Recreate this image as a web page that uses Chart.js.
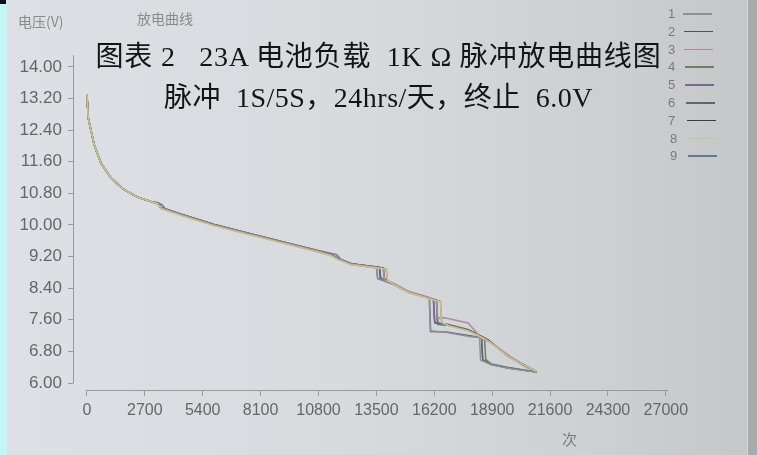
<!DOCTYPE html>
<html>
<head>
<meta charset="utf-8">
<script src="https://cdn.jsdelivr.net/npm/chart.js@4"></script>
<style>
html,body{margin:0;padding:0;width:757px;height:455px;overflow:hidden;}
body{position:relative;background:linear-gradient(90deg,#dde0e4 0%,#d8dbde 45%,#cdd0d2 80%,#c4c6c8 100%);font-family:"Liberation Sans",Arial,sans-serif;}
#c{position:absolute;left:0;top:0;}
.txt{position:absolute;white-space:pre;}
#strip{position:absolute;left:0;top:0;width:7px;height:455px;background:#c3f7f7;}
#mark{position:absolute;left:0;top:0;width:6px;height:4px;background:#111;}
#rstrip{position:absolute;left:747px;top:0;width:10px;height:455px;background:#a8aaac;border-left:1px solid #d4d6d7;}
.t{font-family:"Liberation Serif","Noto Sans CJK SC",serif;color:#141414;font-size:28px;line-height:28px;}
.lg{position:absolute;font-size:13px;line-height:13px;color:#7a7a7a;}
.lgl{position:absolute;height:1.5px;width:29px;}
</style>
</head>
<body>
<div id="strip"></div><div id="mark"></div><div id="rstrip"></div>
<canvas id="c" width="757" height="455"></canvas>
<div class="txt" style="left:18px;top:11px;font-size:14px;color:#8a8a8a;font-family:'Noto Sans CJK SC',sans-serif;">电压(V)</div>
<div class="txt" style="left:137px;top:8px;font-size:14px;color:#8a8a8a;font-family:'Noto Sans CJK SC',sans-serif;">放电曲线</div>
<div class="txt" style="left:562px;top:428px;font-size:15px;color:#7a7a7a;font-family:'Noto Sans CJK SC',sans-serif;">次</div>
<div class="txt t" style="left:0;width:757px;text-align:center;top:43px;letter-spacing:0.8px;">图表 2   23A 电池负载  1K Ω 脉冲放电曲线图</div>
<div class="txt t" style="left:0;width:757px;text-align:center;top:84px;letter-spacing:0.5px;">脉冲  1S/5S，24hrs/天，终止  6.0V</div>
<div id="legend"></div>
<script>
// ---- data ----
const seriesNames = ['1','2','3','4','5','6','7','8','9'];
const seriesColors = ['#8e8e9c','#50505e','#b08a96','#6f7f62','#7a6890','#5a6676','#3c3c4a','#c8c488','#5a7a92'];
const xTickValues = [0,2700,5400,8100,10800,13500,16200,18900,21600,24300,27000];
const yTickValues = [6.0,6.8,7.6,8.4,9.2,10.0,10.8,11.6,12.4,13.2,14.0];
// start of discharge, identical for all cells
const commonStart = [[0,13.31],[60,12.71],[340,12.02],[650,11.57],[1120,11.19],[1680,10.91],[2335,10.71],[3035,10.58]];
const series1 = [[3300,10.54],[3450,10.42],[4390,10.25],[5930,9.99],[7520,9.77],[9060,9.56],[10740,9.33],[11390,9.23],[11720,9.13],[12330,9.00],[13500,8.91],[13560,8.65],[14340,8.48],[14990,8.29],[15900,8.15],[15970,8.12],[16020,7.32],[16800,7.28],[17900,7.17],[18310,7.15],[18360,6.58],[18870,6.46],[19660,6.37],[20970,6.28]];
const series2 = [[3300,10.55],[3450,10.44],[4390,10.27],[5930,10.01],[7520,9.79],[9060,9.58],[10740,9.35],[11390,9.25],[11720,9.15],[12330,9.02],[13640,8.92],[13700,8.63],[14340,8.50],[14990,8.31],[15930,8.16],[16160,8.10],[16220,7.52],[16860,7.47],[17790,7.34],[18540,7.14],[18730,7.08],[19660,6.67],[20970,6.29]];
const series3 = [[3300,10.54],[3450,10.43],[4390,10.26],[5930,10.00],[7520,9.78],[9060,9.57],[10740,9.34],[11390,9.24],[11720,9.14],[12330,9.01],[13820,8.90],[13880,8.61],[14340,8.51],[14990,8.32],[15930,8.17],[16300,8.08],[16360,7.64],[16680,7.65],[17780,7.52],[18400,7.13],[18870,7.01],[19880,6.62],[20350,6.46],[20970,6.28]];
const series4 = [[3300,10.53],[3450,10.42],[4390,10.25],[5930,9.99],[7520,9.77],[9060,9.56],[10740,9.33],[11390,9.23],[11720,9.13],[12330,9.00],[13960,8.89],[14020,8.57],[14340,8.50],[14990,8.30],[15930,8.15],[16490,8.06],[16550,7.51],[16860,7.46],[17790,7.33],[18540,7.13],[18600,6.60],[18870,6.47],[19660,6.38],[20970,6.28]];
const series5 = [[3300,10.57],[3500,10.51],[3650,10.41],[4390,10.27],[5930,10.01],[7520,9.79],[9060,9.58],[10740,9.36],[11390,9.28],[11650,9.25],[11850,9.12],[12330,9.02],[13500,8.93],[13560,8.64],[14340,8.49],[14990,8.31],[15930,8.16],[16160,8.11],[16220,7.54],[16860,7.48],[17790,7.35],[18400,7.17],[18870,7.00],[19880,6.61],[20350,6.45],[20970,6.28]];
const series6 = [[3300,10.54],[3450,10.43],[4390,10.26],[5930,10.00],[7520,9.78],[9060,9.57],[10740,9.34],[11390,9.24],[11720,9.14],[12330,9.01],[13640,8.91],[13700,8.64],[14340,8.49],[14990,8.30],[15930,8.15],[15970,8.13],[16030,7.30],[16770,7.29],[18070,7.18],[18400,7.15],[18460,6.57],[18870,6.47],[19660,6.38],[20970,6.28]];
const series7 = [[3300,10.55],[3450,10.43],[4390,10.26],[5930,10.00],[7520,9.78],[9060,9.57],[10740,9.34],[11390,9.24],[11720,9.14],[12330,9.01],[13820,8.91],[13880,8.63],[14340,8.50],[14990,8.30],[15930,8.15],[16300,8.09],[16360,7.49],[16860,7.47],[17790,7.34],[18540,7.14],[18730,7.08],[19660,6.67],[20970,6.28]];
const series8 = [[3300,10.54],[3450,10.42],[4390,10.24],[5930,9.98],[7520,9.76],[9060,9.55],[10740,9.32],[11390,9.22],[11720,9.12],[12330,8.99],[13960,8.88],[14020,8.59],[14340,8.49],[14990,8.29],[15930,8.14],[16490,8.05],[16550,7.53],[16860,7.45],[17790,7.32],[18540,7.12],[18800,7.03],[19700,6.65],[20970,6.29]];
const series9 = [[3300,10.55],[3450,10.44],[4390,10.27],[5930,10.01],[7520,9.79],[9060,9.58],[10740,9.35],[11390,9.25],[11720,9.15],[12330,9.02],[13640,8.93],[13700,8.65],[14340,8.50],[14990,8.31],[15930,8.16],[16300,8.10],[16360,7.48],[16860,7.47],[17790,7.34],[18400,7.18],[18460,6.59],[18870,6.48],[19660,6.39],[20970,6.28]];
const seriesTails = [series1,series2,series3,series4,series5,series6,series7,series8,series9];
const drawOrder = [7,0,2,3,4,5,8,1,6];

// ---- legend (HTML) ----
const lg = document.getElementById('legend');
seriesNames.forEach((n,i)=>{
  const y = 7 + i*17.8;
  const t = document.createElement('div'); t.className='lg'; t.textContent=n;
  t.style.left = (668 + (i>6?2:0)) + 'px'; t.style.top = y + 'px'; lg.appendChild(t);
  const l = document.createElement('div'); l.className='lgl';
  l.style.left = (683 + i*0.6) + 'px'; l.style.top = (y+6) + 'px'; l.style.background = seriesColors[i];
  lg.appendChild(l);
});

const datasets = drawOrder.map(i => ({
  label: seriesNames[i],
  data: commonStart.concat(seriesTails[i]).map(p => ({x:p[0], y:p[1]})),
  borderColor: seriesColors[i],
  borderWidth: 1.5,
  pointRadius: 0,
  tension: 0,
  fill: false
}));

const axisLines = {
  id:'axisLines',
  afterDraw(chart){
    const {ctx, chartArea, scales} = chart;
    ctx.save();
    ctx.strokeStyle = '#9a9a9a'; ctx.lineWidth = 1;
    const xl = Math.round(chartArea.left)+0.5;
    ctx.beginPath();
    ctx.moveTo(xl, Math.round(scales.y.getPixelForValue(yTickValues[0]))+0.5);
    ctx.lineTo(xl, chartArea.top);
    ctx.stroke();
    const yb = Math.round(chartArea.bottom)+0.5;
    ctx.beginPath();
    ctx.moveTo(Math.round(scales.x.getPixelForValue(xTickValues[0])), yb);
    ctx.lineTo(Math.round(scales.x.getPixelForValue(xTickValues[xTickValues.length-1]))+2, yb);
    ctx.stroke();
    ctx.restore();
  }
};

new Chart(document.getElementById('c'), {
  type:'line',
  data:{datasets},
  plugins:[axisLines],
  options:{
    responsive:false, animation:false, devicePixelRatio:1,
    layout:{padding:{left:0,right:89,top:55,bottom:0}},
    plugins:{legend:{display:false}, tooltip:{enabled:false}},
    scales:{
      x:{
        type:'linear', min:-650, max:27100,
        afterBuildTicks(s){ s.ticks = xTickValues.map(v=>({value:v})); },
        afterFit(s){ s.height = 65; },
        border:{display:false},
        grid:{drawOnChartArea:false, drawTicks:true, tickLength:6, color:'#9a9a9a'},
        ticks:{autoSkip:false, maxRotation:0, padding:5, color:'#666', font:{size:16, family:'"Liberation Sans", Arial, sans-serif'}, callback:v=>String(v)}
      },
      y:{
        type:'linear', min:5.823, max:14.30,
        afterBuildTicks(s){ s.ticks = yTickValues.map(v=>({value:v})); },
        afterFit(s){ s.width = 73; },
        border:{display:false},
        grid:{drawOnChartArea:false, drawTicks:true, tickLength:5, color:'#9a9a9a'},
        ticks:{padding:6, color:'#666', font:{size:17, family:'"Liberation Sans", Arial, sans-serif'}, callback:v=>Number(v).toFixed(2)}
      }
    }
  }
});
</script>
</body>
</html>
